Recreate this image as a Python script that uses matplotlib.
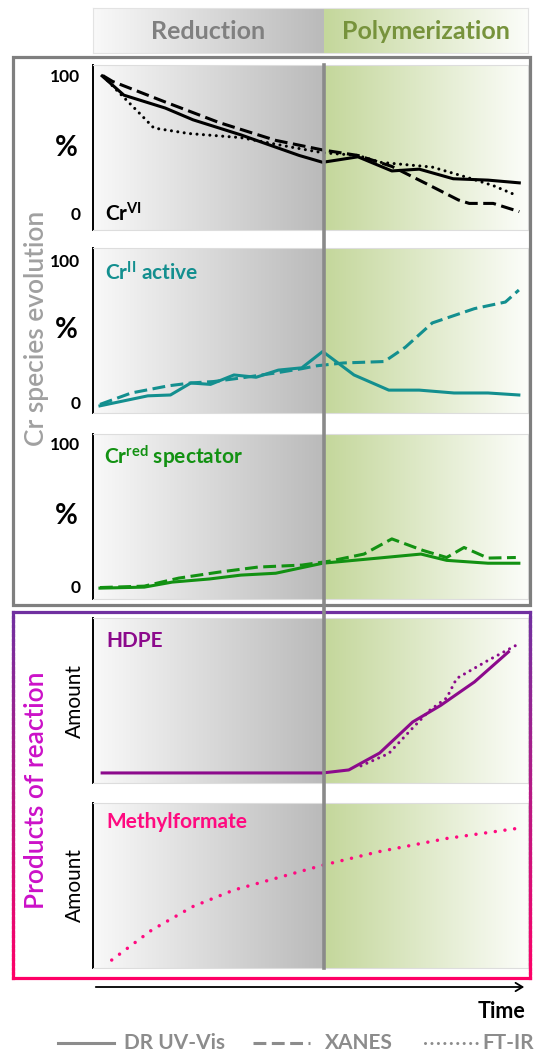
import numpy as np
import matplotlib.pyplot as plt
from matplotlib.colors import to_rgb
from matplotlib.collections import LineCollection
from matplotlib.patches import Rectangle, FancyArrowPatch
from matplotlib.lines import Line2D

plt.rcParams['font.family'] = ['Lato', 'DejaVu Sans']
plt.rcParams['mathtext.fontset'] = 'custom'
plt.rcParams['mathtext.rm'] = 'Lato'
plt.rcParams['mathtext.bf'] = 'Lato:bold'

# phase boundary (time, % of the time axis)
DIV = 53.1

# Cr(VI)
cr6_uv_t = [2.1, 7.1, 16.6, 23, 34, 47.4, 52.8, 60.9, 68.7, 75, 82.8, 90.8, 98]
cr6_uv_v = [100, 86, 76.6, 68, 57, 42, 37, 41, 30.7, 32, 25, 24, 22]
cr6_xa_t = [2.4, 4.5, 16.6, 29, 42, 52.8, 60.9, 68.7, 77.5, 84, 86.5, 92, 98]
cr6_xa_v = [100, 96, 81, 66, 53, 46, 42, 34, 20, 9.5, 7, 7, 1]
cr6_ir_t = [2.4, 4.7, 10, 14, 22, 34, 45.7, 52.8, 60.9, 66, 78, 86, 92, 97.7]
cr6_ir_v = [100, 92, 75, 62, 58, 55, 48, 44, 42, 37, 33.5, 26, 20, 12.4]

# Cr(II) active
cr2_uv_t = [1.6, 12.6, 17.8, 22.5, 27, 32.4, 37.5, 42.6, 48, 52.8, 60, 68, 75, 83, 90.8, 97.9]
cr2_uv_v = [-2, 5, 5.6, 14, 13, 19.6, 18, 23, 24.6, 36, 19.6, 9, 9, 7, 7, 5.6]
cr2_xa_t = [1.6, 8.8, 17.3, 22.5, 27.7, 34, 42, 48, 51.4, 57.6, 67, 71.8, 78, 87.7, 94.8, 97.9]
cr2_xa_v = [-1, 7, 12, 14, 15, 17.5, 21, 24, 26, 28, 29, 39, 56, 66, 70.6, 79]

# Cr(red) spectator
crr_uv_t = [1.6, 11.8, 18.2, 26.8, 34, 42, 52.8, 65.6, 75.4, 81.3, 90.8, 97.9]
crr_uv_v = [-1.4, -0.7, 2.8, 5, 7.7, 9, 16, 19.6, 22.4, 18, 16, 16]
crr_xa_t = [1.6, 11.8, 19.7, 29, 37.9, 48, 54.5, 62.3, 68.7, 75.8, 81.3, 85.3, 90.8, 97.2]
crr_xa_v = [-1, 0, 5.6, 9.8, 13.3, 14.7, 17.5, 22.4, 33, 25, 20, 27, 19.6, 20]

# HDPE (arbitrary amount)
hdpe_uv_t = [2.1, 52.8, 58.8, 65.9, 73.5, 79.9, 87.7, 95.5]
hdpe_uv_v = [0, 0, 2, 13.3, 34, 45, 60.7, 80.7]
hdpe_ir_t = [61.6, 68, 73.5, 77.5, 81.3, 83.6, 90.8, 97.2]
hdpe_ir_v = [4.7, 13, 30, 42, 50, 63, 75, 85]

# methylformate (arbitrary amount)
mf_ir_t = [4.3, 13.5, 22.9, 32.4, 41.9, 52.9, 65.6, 81.4, 97.6]
mf_ir_v = [0, 20, 35.6, 46.7, 54.4, 63.3, 72.2, 81.1, 87.8]

W, H = 540, 1052
X0, X1 = 93, 528
fig = plt.figure(figsize=(W / 100, H / 100), dpi=100)


def fx(px):
    return px / W


def fy(py):
    return 1 - py / H


def shade(ax, ylo, yhi):
    f = np.linspace(0, 1, 256)[None, :, None]
    red = (1 - f) * np.array(to_rgb('#f9f9f9')) + f * np.array(to_rgb('#bababa'))
    pol = (1 - f) * np.array(to_rgb('#c4d79b')) + f * np.array(to_rgb('#fcfdfa'))
    ax.imshow(red, extent=(0, DIV, ylo, yhi), aspect='auto', zorder=0, interpolation='bilinear')
    ax.imshow(pol, extent=(DIV, 100, ylo, yhi), aspect='auto', zorder=0, interpolation='bilinear')


def panel(top, bot, ylim, ticks=True):
    ax = fig.add_axes([fx(X0), fy(bot), fx(X1) - fx(X0), fy(top) - fy(bot)])
    ax.set_xlim(0, 100)
    ax.set_ylim(*ylim)
    shade(ax, *ylim)
    for s in ['top', 'right', 'bottom']:
        ax.spines[s].set_color('#dddddd')
        ax.spines[s].set_linewidth(0.8)
    ax.spines['left'].set_color('black')
    ax.spines['left'].set_linewidth(1.4)
    ax.set_xticks([])
    if ticks:
        ax.set_yticks([0, 100])
        ax.set_yticklabels(['0', '100'], fontsize=12.5, fontweight='bold')
        ax.tick_params(axis='y', length=0, pad=9)
        fig.text(fx(66), fy((top + bot) / 2), '%', fontsize=20, fontweight='bold',
                 ha='center', va='center')
    else:
        ax.set_yticks([])
        fig.text(fx(75), fy((top + bot) / 2), 'Amount', fontsize=15, rotation=90,
                 ha='center', va='center')
    return ax


LW = 2.2
dash = (0, (4.2, 1.8))
dot = (0, (0.01, 2.1))

# header
hax = fig.add_axes([fx(X0), fy(53), fx(X1) - fx(X0), fy(8) - fy(53)])
hax.set_xlim(0, 100)
hax.set_ylim(0, 1)
shade(hax, 0, 1)
hax.set_xticks([])
hax.set_yticks([])
for s in hax.spines.values():
    s.set_color('#e3e3e3')
    s.set_linewidth(0.8)
hax.text(DIV / 2, 0.47, 'Reduction', color='#808080', fontsize=18, fontweight='bold',
         ha='center', va='center')
hax.text((DIV + 100) / 2, 0.47, 'Polymerization', color='#77933c', fontsize=18,
         fontweight='bold', ha='center', va='center')

# Cr(VI)
ax1 = panel(65, 230, (-12.4, 108))
ax1.plot(cr6_uv_t, cr6_uv_v, color='black', lw=LW)
ax1.plot(cr6_xa_t, cr6_xa_v, color='black', lw=LW, ls=dash)
ax1.plot(cr6_ir_t, cr6_ir_v, color='black', lw=LW, ls=dot, dash_capstyle='round')
fig.text(fx(105), fy(214), r'$\mathbf{Cr^{VI}}$', fontsize=15, color='black', va='center')

# Cr(II)
ax2 = panel(248, 413, (-7, 108.4))
c2 = '#138f8f'
ax2.plot(cr2_uv_t, cr2_uv_v, color=c2, lw=LW)
ax2.plot(cr2_xa_t, cr2_xa_v, color=c2, lw=LW, ls=dash)
fig.text(fx(105), fy(273), r'$\mathbf{Cr^{II}}$ active', fontsize=15, color=c2,
         fontweight='bold', va='center')

# Cr(red)
ax3 = panel(434, 599, (-9, 106.3))
c3 = '#129112'
ax3.plot(crr_uv_t, crr_uv_v, color=c3, lw=LW)
ax3.plot(crr_xa_t, crr_xa_v, color=c3, lw=LW, ls=dash)
fig.text(fx(104), fy(457), r'$\mathbf{Cr^{red}}$ spectator', fontsize=15, color=c3,
         fontweight='bold', va='center')

# HDPE
ax4 = panel(618, 783, (-6.7, 103.3), ticks=False)
c4 = '#8c0a8c'
ax4.plot(hdpe_uv_t, hdpe_uv_v, color=c4, lw=LW)
ax4.plot(hdpe_ir_t, hdpe_ir_v, color=c4, lw=LW, ls=dot, dash_capstyle='round')
fig.text(fx(106), fy(641), 'HDPE', fontsize=15, color=c4, fontweight='bold', va='center')

# methylformate
ax5 = panel(803, 968, (-5.3, 104.7), ticks=False)
c5 = '#ff0a80'
ax5.plot(mf_ir_t, mf_ir_v, color=c5, lw=2.5, ls=(0, (0.01, 2.8)), dash_capstyle='round')
fig.text(fx(106), fy(822), 'Methylformate', fontsize=15, color=c5, fontweight='bold',
         va='center')

# frames around the two groups
fig.add_artist(Rectangle((fx(13), fy(605)), fx(530) - fx(13), fy(57) - fy(605),
                         transform=fig.transFigure, fill=False, ec='#7f7f7f', lw=2.3))
top_c = np.array(to_rgb('#7030a0'))
bot_c = np.array(to_rgb('#ff0066'))
ys = np.linspace(612, 978, 80)
segs, cols = [], []
for xe in (13, 530):
    for a, b in zip(ys[:-1], ys[1:]):
        segs.append([(fx(xe), fy(a)), (fx(xe), fy(b))])
        k = (a - 612) / (978 - 612)
        cols.append((1 - k) * top_c + k * bot_c)
segs.append([(fx(13), fy(612)), (fx(530), fy(612))])
cols.append(top_c)
segs.append([(fx(13), fy(978)), (fx(530), fy(978))])
cols.append(bot_c)
fig.add_artist(LineCollection(segs, colors=cols, linewidths=2.3, transform=fig.transFigure,
                              capstyle='projecting'))

# phase divider
xd = X0 + DIV / 100 * (X1 - X0)
fig.add_artist(Line2D([fx(xd), fx(xd)], [fy(65), fy(968)], color='#8a8a8a', lw=2.6,
                      transform=fig.transFigure, zorder=10))

# side titles
fig.text(fx(37), fy(328), 'Cr species evolution', rotation=90, fontsize=19,
         fontweight='semibold', color='#a0a0a0', ha='center', va='center')
fig.text(fx(37), fy(790), 'Products of reaction', rotation=90, fontsize=19,
         fontweight='semibold', color='#cc11c8', ha='center', va='center')

# time arrow
fig.add_artist(FancyArrowPatch(
    (fx(X0), fy(987)), (fx(527), fy(987)), transform=fig.transFigure,
    arrowstyle='->,head_length=5,head_width=3', color='black', lw=1.3))
fig.text(fx(525), fy(1011), 'Time', fontsize=15.5, fontweight='bold', ha='right',
         va='center')

# legend
lg = '#8c8c8c'
fig.add_artist(Line2D([fx(58), fx(114)], [fy(1043)] * 2, color=lg, lw=LW,
                      transform=fig.transFigure))
fig.add_artist(Line2D([fx(253), fx(310)], [fy(1043)] * 2, color=lg, lw=LW, ls=dash,
                      transform=fig.transFigure))
fig.add_artist(Line2D([fx(425), fx(477)], [fy(1043)] * 2, color=lg, lw=LW, ls=dot,
                      dash_capstyle='round', transform=fig.transFigure))
fig.text(fx(124), fy(1043), 'DR UV-Vis', fontsize=15, fontweight='bold', color=lg,
         va='center')
fig.text(fx(325), fy(1043), 'XANES', fontsize=15, fontweight='bold', color=lg, va='center')
fig.text(fx(482), fy(1043), 'FT-IR', fontsize=15, fontweight='bold', color=lg, va='center')

fig.savefig('out.png', dpi=100)
